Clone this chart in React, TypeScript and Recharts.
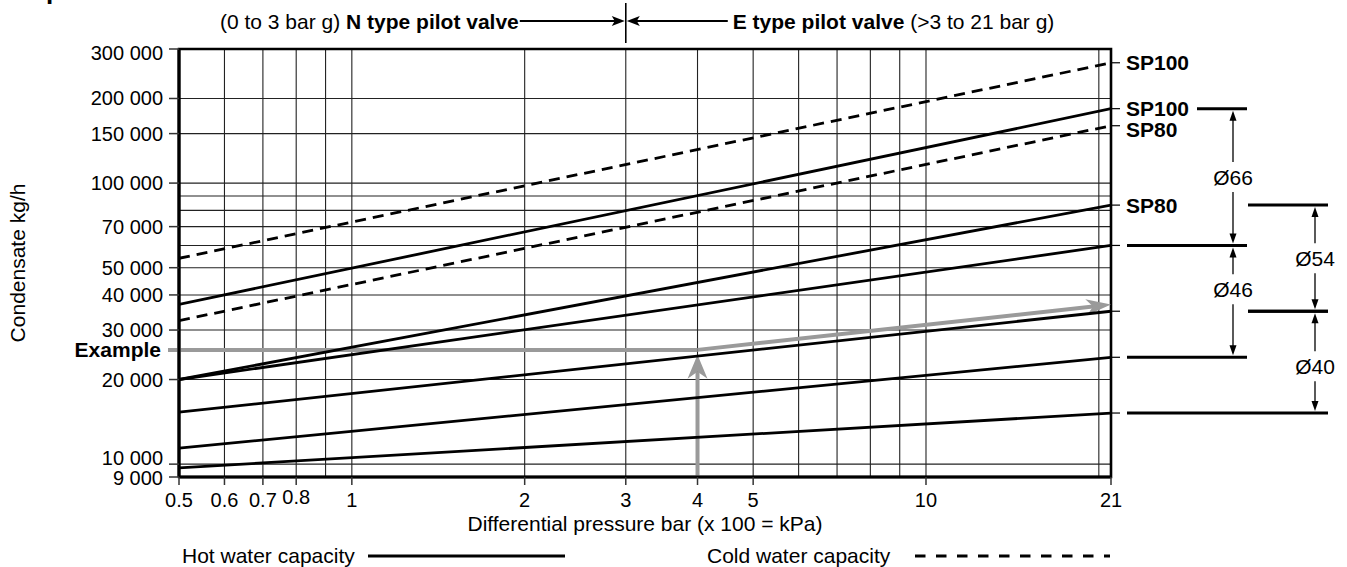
import React from "react"
import {
  ComposedChart,
  Line,
  XAxis,
  YAxis,
  CartesianGrid,
  ReferenceLine,
  ReferenceArea,
  Label,
} from "recharts"

const FONT = '"Liberation Sans", Arial, Helvetica, sans-serif'
const INK = "#000"
const GRID = "#222"
const EXAMPLE_GREY = "#9a9a9a"

// differential pressure (bar) at both ends of every capacity line
const pressures = [0.5, 21]

// hot water capacity, kg/h
const hotSp100Max = [37000, 184000]
const hotSp100Mid = [20000, 60000]
const hotSp100Min = [11400, 24000]
const hotSp80Max = [20000, 83500]
const hotSp80Mid = [15300, 35000]
const hotSp80Min = [9700, 15200]

// cold water capacity, kg/h
const coldSp100 = [54000, 268000]
const coldSp80 = [32400, 160000]

// axes
const xDomain = [0.5, 21]
const yDomain = [9000, 300000]
const xGrid = [0.5, 0.6, 0.7, 0.8, 0.9, 1, 2, 3, 4, 5, 6, 7, 8, 9, 10, 20, 21]
const xLabelled = [0.5, 0.6, 0.7, 0.8, 1, 2, 3, 4, 5, 10, 21]
const yGrid = [9000, 10000, 20000, 30000, 40000, 50000, 60000, 70000, 80000, 90000, 100000, 150000, 200000, 300000]
const yLabelled = [9000, 10000, 20000, 30000, 40000, 50000, 70000, 100000, 150000, 200000, 300000]

// N / E pilot valve split
const pilotSplit = 3

// worked example
const examplePressure = 4
const exampleFlow = 25500
const exampleReading = 24500
const exampleEnd = 37000

const hotSeries = [
  { key: "hotSp100Max", values: hotSp100Max },
  { key: "hotSp100Mid", values: hotSp100Mid },
  { key: "hotSp100Min", values: hotSp100Min },
  { key: "hotSp80Max", values: hotSp80Max },
  { key: "hotSp80Mid", values: hotSp80Mid },
  { key: "hotSp80Min", values: hotSp80Min },
]
const coldSeries = [
  { key: "coldSp100", values: coldSp100 },
  { key: "coldSp80", values: coldSp80 },
]

const endTags = [
  { flow: coldSp100[1], text: "SP100" },
  { flow: hotSp100Max[1], text: "SP100" },
  { flow: coldSp80[1], text: "SP80" },
  { flow: hotSp80Max[1], text: "SP80" },
]

const orificeBands = [
  { size: "Ø66", top: hotSp100Max[1], bottom: hotSp100Mid[1], col: 0 },
  { size: "Ø46", top: hotSp100Mid[1], bottom: hotSp100Min[1], col: 0 },
  { size: "Ø54", top: hotSp80Max[1], bottom: hotSp80Mid[1], col: 1 },
  { size: "Ø40", top: hotSp80Mid[1], bottom: hotSp80Min[1], col: 1 },
]

const legendItems = [
  { name: "Hot water capacity", dash: undefined as string | undefined },
  { name: "Cold water capacity", dash: "10.5 10.5" },
]

const rows = pressures.map((p, i) => {
  const row: Record<string, number> = { p }
  for (const s of [...hotSeries, ...coldSeries]) row[s.key] = s.values[i]
  return row
})

const allEnds = [...hotSeries, ...coldSeries].map((s) => s.values[1])

const W = 1347
const H = 567
const textStyle = { fontFamily: FONT, fill: INK }

// small hand placements seen in the drawing
const tagNudge: Record<number, number> = { [coldSp80[1]]: 4 }
const bandLabelNudge: Record<string, number> = { "Ø46": -12, "Ø40": 4 }

function fmt(v: number) {
  const k = Math.floor(v / 1000)
  return `${k} ${String(v % 1000).padStart(3, "0")}`
}

// arrow head polygon, tip at (tx,ty), pointing along (ux,uy)
function head(tx: number, ty: number, ux: number, uy: number, len: number, half: number, notch: number) {
  const px = -uy
  const py = ux
  const bx = tx - ux * len
  const by = ty - uy * len
  return `${tx},${ty} ${bx + px * half},${by + py * half} ${tx - ux * notch},${ty - uy * notch} ${bx - px * half},${by - py * half}`
}

function PressureTick(props: any) {
  const { x, y, payload } = props
  const v = payload.value
  if (!xLabelled.includes(v)) return <g />
  const lift = v === 0.8 ? -3 : 0
  return (
    <g>
      <line x1={x} x2={x} y1={y} y2={y + 8} stroke="#333" strokeWidth={1.5} />
      <text x={x} y={y + 23 + lift} textAnchor="middle" dominantBaseline="central" fontSize={20} {...textStyle}>
        {v}
      </text>
    </g>
  )
}

function FlowTick(props: any) {
  const { x, y, payload } = props
  const v = payload.value
  if (!yLabelled.includes(v)) return <g />
  const nudge = v === yDomain[1] ? 4 : v === 10000 ? -6 : v === yDomain[0] ? 1 : 0
  return (
    <g>
      <line x1={x - 10} x2={x} y1={y} y2={y} stroke="#333" strokeWidth={1.5} />
      <text x={x - 16} y={y + nudge} textAnchor="end" dominantBaseline="central" fontSize={20} {...textStyle}>
        {fmt(v)}
      </text>
    </g>
  )
}

function XTitle(props: any) {
  const vb = props.viewBox ?? { x: 179, y: 477, width: 932, height: 30 }
  const cx = vb.x + vb.width / 2
  const ly = vb.y + 78
  return (
    <g>
      <text x={cx} y={vb.y + 46} textAnchor="middle" dominantBaseline="central" fontSize={21} {...textStyle}>
        Differential pressure bar (x 100 = kPa)
      </text>
      {legendItems.map((it, i) => {
        const tx = vb.x + (i === 0 ? 3 : 528)
        const l0 = vb.x + (i === 0 ? 189 : 736)
        const l1 = vb.x + (i === 0 ? 386 : 931)
        return (
          <g key={it.name}>
            <text x={tx} y={ly} dominantBaseline="central" fontSize={21} {...textStyle}>
              {it.name}
            </text>
            <line x1={l0} x2={l1} y1={ly + 1} y2={ly + 1} stroke={INK} strokeWidth={3.2} strokeDasharray={it.dash} />
          </g>
        )
      })}
    </g>
  )
}

function YTitle(props: any) {
  const vb = props.viewBox ?? { x: 0, y: 49, width: 179, height: 428 }
  const cx = vb.x + 17
  const cy = vb.y + vb.height / 2
  return (
    <g>
      <text
        x={cx}
        y={cy}
        transform={`rotate(-90 ${cx} ${cy})`}
        textAnchor="middle"
        dominantBaseline="central"
        fontSize={21}
        {...textStyle}
      >
        Condensate kg/h
      </text>
      <text x={46} y={-1} fontSize={26} fontWeight="bold" {...textStyle}>
        p
      </text>
    </g>
  )
}

function PilotSplit(props: any) {
  const x = props.x1
  const top = Math.min(props.y1, props.y2)
  const y = top - 28
  return (
    <g>
      <line x1={x} x2={x} y1={top - 46} y2={top - 6} stroke={INK} strokeWidth={1.6} />
      <line x1={x - 106} x2={x - 10} y1={y} y2={y} stroke={INK} strokeWidth={1.8} />
      <polygon points={head(x - 1, y, 1, 0, 13, 5, 10)} fill={INK} />
      <line x1={x + 10} x2={x + 102} y1={y} y2={y} stroke={INK} strokeWidth={1.8} />
      <polygon points={head(x + 1, y, -1, 0, 13, 5, 10)} fill={INK} />
      <text x={x - 107} y={y} textAnchor="end" dominantBaseline="central" fontSize={21} {...textStyle}>
        (0 to 3 bar g) <tspan fontWeight="bold">N type pilot valve</tspan>
      </text>
      <text x={x + 107} y={y} dominantBaseline="central" fontSize={21} {...textStyle}>
        <tspan fontWeight="bold">E type pilot valve</tspan> (&gt;3 to 21 bar g)
      </text>
    </g>
  )
}

function ExampleLead(props: any) {
  const { x1, y1, x2 } = props
  return (
    <g>
      <line x1={x1 - 11} x2={x2} y1={y1} y2={y1} stroke={EXAMPLE_GREY} strokeWidth={4} />
      <text x={x1 - 18} y={y1} textAnchor="end" dominantBaseline="central" fontSize={21} fontWeight="bold" {...textStyle}>
        Example
      </text>
    </g>
  )
}

function ExampleArrow(props: any) {
  const { x1, y1, x2, y2 } = props
  const dx = x2 - x1
  const dy = y2 - y1
  const d = Math.hypot(dx, dy) || 1
  const ux = dx / d
  const uy = dy / d
  const vertical = Math.abs(ux) < 0.01
  const len = vertical ? 24 : 25
  const half = vertical ? 10 : 8
  const notch = vertical ? 17 : 18
  return (
    <g>
      <line x1={x1} y1={y1} x2={x2 - ux * notch} y2={y2 - uy * notch} stroke={EXAMPLE_GREY} strokeWidth={4} />
      <polygon points={head(x2, y2, ux, uy, len, half, notch)} fill={EXAMPLE_GREY} />
    </g>
  )
}

function EndTick(tag?: { text: string; flow: number }) {
  return (props: any) => {
    const x = Math.max(props.x1, props.x2)
    const y = props.y1
    return (
      <g>
        <line x1={x} x2={x + 9} y1={y} y2={y} stroke={INK} strokeWidth={1.2} />
        {tag && (
          <text
            x={x + 15}
            y={y + (tagNudge[tag.flow] ?? 0)}
            dominantBaseline="central"
            fontSize={21}
            fontWeight="bold"
            {...textStyle}
          >
            {tag.text}
          </text>
        )}
      </g>
    )
  }
}

const col0Low = Math.min(...orificeBands.filter((b) => b.col === 0).map((b) => b.bottom))
const col0High = Math.max(...orificeBands.filter((b) => b.col === 0).map((b) => b.top))

function extensionStart(flow: number, col: number) {
  if (col === 1 && flow >= col0Low && flow <= col0High) return 137
  if (endTags.some((t) => t.flow === flow)) return 86
  return 16
}

function OrificeBand(band: { size: string; col: number; top: number; bottom: number }) {
  return (props: any) => {
    const edge = props.x1
    const yt = Math.min(props.y1, props.y2)
    const yb = Math.max(props.y1, props.y2)
    const ax = edge + (band.col === 0 ? 122 : 204)
    const end = edge + (band.col === 0 ? 136 : 217)
    const mid = (yt + yb) / 2 + (bandLabelNudge[band.size] ?? 0)
    return (
      <g>
        <line x1={edge + extensionStart(band.top, band.col)} x2={end} y1={yt} y2={yt} stroke={INK} strokeWidth={3} />
        <line x1={edge + extensionStart(band.bottom, band.col)} x2={end} y1={yb} y2={yb} stroke={INK} strokeWidth={3} />
        <line x1={ax} x2={ax} y1={yt + 8} y2={mid - 15} stroke={INK} strokeWidth={1.3} />
        <line x1={ax} x2={ax} y1={mid + 15} y2={yb - 8} stroke={INK} strokeWidth={1.3} />
        <polygon points={head(ax, yt + 2, 0, -1, 10, 3.5, 10)} fill={INK} />
        <polygon points={head(ax, yb - 2, 0, 1, 10, 3.5, 10)} fill={INK} />
        <text x={ax} y={mid} textAnchor="middle" dominantBaseline="central" fontSize={21} {...textStyle}>
          {band.size}
        </text>
      </g>
    )
  }
}

export default function App() {
  return (
    <div style={{ position: "absolute", left: 0, top: 0, background: "#fff" }}>
      <ComposedChart width={W} height={H} data={rows} margin={{ top: 49, right: 236, bottom: 60, left: 0 }}>
        <CartesianGrid stroke={GRID} strokeWidth={1.1} />
        <XAxis
          dataKey="p"
          type="number"
          scale="log"
          domain={xDomain}
          ticks={xGrid}
          interval={0}
          allowDataOverflow
          height={30}
          tickSize={0}
          tickMargin={0}
          tickLine={false}
          axisLine={{ stroke: INK, strokeWidth: 3.2 }}
          tick={(p: any) => <PressureTick {...p} />}
        >
          <Label content={(p: any) => <XTitle {...p} />} />
        </XAxis>
        <YAxis
          type="number"
          scale="log"
          domain={yDomain}
          ticks={yGrid}
          interval={0}
          allowDataOverflow
          width={179}
          tickSize={0}
          tickMargin={0}
          tickLine={false}
          axisLine={{ stroke: INK, strokeWidth: 3.2 }}
          tick={(p: any) => <FlowTick {...p} />}
        >
          <Label content={(p: any) => <YTitle {...p} />} />
        </YAxis>
        <ReferenceArea
          x1={xDomain[0]}
          x2={xDomain[1]}
          y1={yDomain[0]}
          y2={yDomain[1]}
          fill="none"
          stroke={INK}
          strokeWidth={2.6}
          ifOverflow="visible"
        />
        <ReferenceLine
          segment={[{ x: pressures[0], y: exampleFlow }, { x: examplePressure, y: exampleFlow }]}
          ifOverflow="visible"
          shape={(p: any) => <ExampleLead {...p} />}
        />
        <ReferenceLine
          segment={[{ x: examplePressure, y: yDomain[0] }, { x: examplePressure, y: exampleReading }]}
          ifOverflow="visible"
          shape={(p: any) => <ExampleArrow {...p} />}
        />
        <ReferenceLine
          segment={[{ x: examplePressure, y: exampleFlow }, { x: pressures[1], y: exampleEnd }]}
          ifOverflow="visible"
          shape={(p: any) => <ExampleArrow {...p} />}
        />
        {hotSeries.map((s) => (
          <Line
            key={s.key}
            dataKey={s.key}
            type="linear"
            stroke={INK}
            strokeWidth={2.8}
            dot={false}
            activeDot={false}
            isAnimationActive={false}
          />
        ))}
        {coldSeries.map((s) => (
          <Line
            key={s.key}
            dataKey={s.key}
            type="linear"
            stroke={INK}
            strokeWidth={2.8}
            strokeDasharray="11 7"
            dot={false}
            activeDot={false}
            isAnimationActive={false}
          />
        ))}
        <ReferenceLine x={pilotSplit} ifOverflow="visible" shape={(p: any) => <PilotSplit {...p} />} />
        {allEnds.map((f, i) => {
          const tag = endTags.find((t) => t.flow === f)
          const Shape = EndTick(tag)
          return <ReferenceLine key={`end-${i}`} y={f} ifOverflow="visible" shape={(p: any) => <Shape {...p} />} />
        })}
        {orificeBands.map((b) => {
          const Shape = OrificeBand(b)
          return (
            <ReferenceLine
              key={b.size}
              segment={[{ x: pressures[1], y: b.top }, { x: pressures[1], y: b.bottom }]}
              ifOverflow="visible"
              shape={(p: any) => <Shape {...p} />}
            />
          )
        })}
      </ComposedChart>
    </div>
  )
}
